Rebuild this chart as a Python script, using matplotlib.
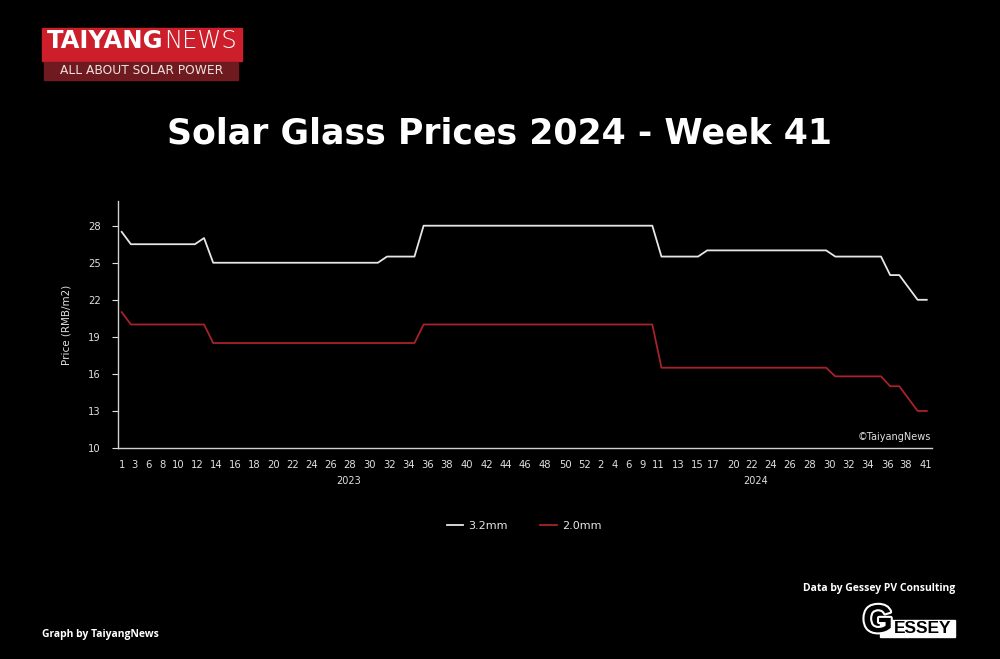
import matplotlib.pyplot as plt
import matplotlib.patheffects as pe
from matplotlib.patches import Rectangle
from matplotlib.text import Annotation

# weekly prices, RMB/m2 (2023 wk1 .. 2024 wk41, as plotted)
price_32 = [27.5, 26.5, 26.5, 26.5, 26.5, 26.5, 26.5, 26.5, 26.5, 27.0,
            25.0, 25.0, 25.0, 25.0, 25.0, 25.0, 25.0, 25.0, 25.0, 25.0,
            25.0, 25.0, 25.0, 25.0, 25.0, 25.0, 25.0, 25.0, 25.0, 25.5,
            25.5, 25.5, 25.5, 28.0, 28.0, 28.0, 28.0, 28.0, 28.0, 28.0,
            28.0, 28.0, 28.0, 28.0, 28.0, 28.0, 28.0, 28.0, 28.0, 28.0,
            28.0, 28.0, 28.0, 28.0, 28.0, 28.0, 28.0, 28.0, 28.0, 25.5,
            25.5, 25.5, 25.5, 25.5, 26.0, 26.0, 26.0, 26.0, 26.0, 26.0,
            26.0, 26.0, 26.0, 26.0, 26.0, 26.0, 26.0, 26.0, 25.5, 25.5,
            25.5, 25.5, 25.5, 25.5, 24.0, 24.0, 23.0, 22.0, 22.0]
price_20 = [21.0, 20.0, 20.0, 20.0, 20.0, 20.0, 20.0, 20.0, 20.0, 20.0,
            18.5, 18.5, 18.5, 18.5, 18.5, 18.5, 18.5, 18.5, 18.5, 18.5,
            18.5, 18.5, 18.5, 18.5, 18.5, 18.5, 18.5, 18.5, 18.5, 18.5,
            18.5, 18.5, 18.5, 20.0, 20.0, 20.0, 20.0, 20.0, 20.0, 20.0,
            20.0, 20.0, 20.0, 20.0, 20.0, 20.0, 20.0, 20.0, 20.0, 20.0,
            20.0, 20.0, 20.0, 20.0, 20.0, 20.0, 20.0, 20.0, 20.0, 16.5,
            16.5, 16.5, 16.5, 16.5, 16.5, 16.5, 16.5, 16.5, 16.5, 16.5,
            16.5, 16.5, 16.5, 16.5, 16.5, 16.5, 16.5, 16.5, 15.8, 15.8,
            15.8, 15.8, 15.8, 15.8, 15.0, 15.0, 14.0, 13.0, 13.0]

week_labels = ['1', '3', '6', '8', '10', '12', '14', '16', '18', '20', '22',
               '24', '26', '28', '30', '32', '34', '36', '38', '40', '42',
               '44', '46', '48', '50', '52',
               '2', '4', '6', '9', '11', '13', '15', '17', '20', '22', '24',
               '26', '28', '30', '32', '34', '36', '38', '41']
# where the labels sit along the axis (in data-point units)
week_label_pos = [0.0, 1.34, 2.91, 4.44, 6.19, 8.26, 10.31, 12.39, 14.46,
                  16.57, 18.69, 20.77, 22.85, 24.88, 27.14, 29.25, 31.33,
                  33.45, 35.53, 37.71, 39.90, 42.01, 44.09, 46.20, 48.53,
                  50.64,
                  52.29, 53.85, 55.38, 56.91, 58.66, 60.84, 62.86, 64.67,
                  66.86, 68.87, 70.94, 73.05, 75.16, 77.35, 79.43, 81.53,
                  83.68, 85.73, 87.92]
years = ['2023', '2024']
year_pos = [24.77, 69.34]
y_ticks = [10, 13, 16, 19, 22, 25, 28]

bg = 'black'
fg = 'white'
red = '#a8222b'

fig = plt.figure(figsize=(10, 6.59), dpi=100, facecolor=bg)
ax = fig.add_axes([0.1175, 0.3202, 0.8142, 0.3748], facecolor=bg)

x = list(range(len(price_32)))
ax.plot(x, price_32, color='#e6e6e6', lw=1.3, label='3.2mm')
ax.plot(x, price_20, color=red, lw=1.3, label='2.0mm')

ax.set_xlim(-0.46, 88.54)
ax.set_ylim(10, 30)
ax.set_yticks(y_ticks)
ax.set_xticks(week_label_pos)
ax.set_xticklabels(week_labels)
ax.tick_params(axis='x', length=0, pad=9, labelsize=7.2, colors='#e0e0e0')
ax.tick_params(axis='y', length=4, width=0.8, pad=8, labelsize=7.2,
               colors='#e0e0e0')
for s in ['top', 'right']:
    ax.spines[s].set_visible(False)
for s in ['left', 'bottom']:
    ax.spines[s].set_color('#d0d0d0')
    ax.spines[s].set_linewidth(1.0)

for yr, p in zip(years, year_pos):
    ax.annotate(yr, xy=(p, 0), xycoords=('data', 'axes fraction'),
                xytext=(0, -33), textcoords='offset pixels', ha='center',
                va='center', fontsize=7, color='#e0e0e0')

ax.set_ylabel('Price (RMB/m2)', color='#e0e0e0', fontsize=7.5, labelpad=12)
ax.text(0.999, 0.045, '©TaiyangNews', transform=ax.transAxes, ha='right',
        va='center', fontsize=7, color='#e0e0e0')

fig.legend(loc='center', bbox_to_anchor=(0.524, 1 - 526 / 659), ncol=2,
           frameon=False, fontsize=8, labelcolor='#e6e6e6', handlelength=1.5,
           columnspacing=2.9, handletextpad=0.45)

fig.text(0.4995, 1 - 133 / 659, 'Solar Glass Prices 2024 - Week 41',
         ha='center', va='center', fontsize=25, fontweight='bold',
         color=fg, family='DejaVu Sans')

# TaiyangNews logo
fig.patches.append(Rectangle((0.042, 1 - 61 / 659), 0.200, 33 / 659,
                             transform=fig.transFigure, color='#cc1f2b'))
fig.patches.append(Rectangle((0.044, 1 - 80 / 659), 0.194, 18 / 659,
                             transform=fig.transFigure, color='#6e1a1f'))
t_logo = fig.text(0.047, 1 - 40.7 / 659, 'TAIYANG', ha='left', va='center',
                  fontsize=17.5, fontweight='bold', color=fg,
                  family='DejaVu Sans')
fig.add_artist(Annotation('NEWS', xy=(1, 0.5), xycoords=t_logo,
                          xytext=(0.3, 0), textcoords='offset points',
                          ha='left', va='center', fontsize=17.5,
                          fontweight='light', color=fg,
                          family='DejaVu Sans'))
fig.text(0.142, 1 - 71 / 659, 'ALL ABOUT SOLAR POWER', ha='center',
         va='center', fontsize=8.8, color='#f0e0e0', family='DejaVu Sans')

# footer
fig.text(0.042, 1 - 634 / 659, 'Graph by TaiyangNews', ha='left',
         va='center', fontsize=7.5, fontweight='bold', color=fg,
         family='Open Sans')
fig.text(0.955, 1 - 589 / 659, 'Data by Gessey PV Consulting', ha='right',
         va='center', fontsize=7.5, fontweight='bold', color=fg,
         family='Open Sans')

# Gessey logo
fig.patches.append(Rectangle((0.880, 1 - 637 / 659), 0.075, 17 / 659,
                             transform=fig.transFigure, color='white'))
fig.text(0.9225, 1 - 628.5 / 659, 'ESSEY', ha='center', va='center',
         fontsize=12.5, fontweight='bold', color='black',
         family='Liberation Sans')
fig.text(0.878, 1 - 622 / 659, 'G', ha='center', va='center',
         fontsize=28, fontweight='bold', color='black',
         family='Liberation Sans',
         path_effects=[pe.withStroke(linewidth=3, foreground='white')])

fig.savefig('out.png', dpi=100, facecolor=bg)
